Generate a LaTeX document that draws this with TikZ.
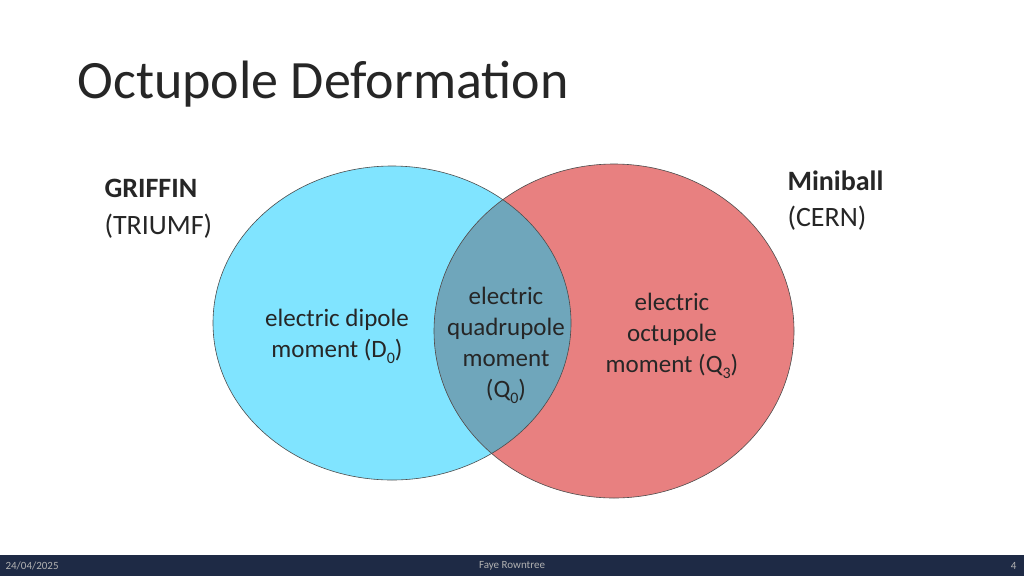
\documentclass[tikz,border=0pt]{standalone}
\usepackage{fontspec}
\setmainfont{Carlito}
\newcommand{\sbs}[1]{\raisebox{-0.25em}{\fontsize{16}{16}\selectfont #1}}
\begin{document}
\begin{tikzpicture}[x=1pt,y=-1pt,
  lbl/.style={align=center,font=\fontsize{25}{31}\selectfont,text=black!85},
  foot/.style={font=\fontsize{11}{12}\selectfont,text=gray!60}]
\definecolor{cy}{HTML}{80E4FF}\definecolor{rd}{HTML}{E88080}\definecolor{ov}{HTML}{6FA6BB}
\definecolor{nav}{HTML}{1E2A45}
\useasboundingbox (0,0) rectangle (1024,576);
\fill[white] (0,0) rectangle (1024,576);
\node[anchor=west,font=\fontsize{54}{56}\selectfont,text=black!85] (title) at (74,84) {Octupole Deformation};
\fill[cy] (392,323) ellipse [x radius=179,y radius=157];
\fill[rd] (614,331) ellipse [x radius=180,y radius=167];
\begin{scope}
\clip (392,323) ellipse [x radius=179,y radius=157];
\fill[ov] (614,331) ellipse [x radius=180,y radius=167];
\end{scope}
\draw[black!70,line width=0.6pt] (392,323) ellipse [x radius=179,y radius=157];
\draw[black!70,line width=0.6pt] (614,331) ellipse [x radius=180,y radius=167];
\node[lbl] (a) at (337,336) {electric dipole\\moment (D\sbs{0})};
\node[lbl] (b) at (506,345) {electric\\quadrupole\\moment\\(Q\sbs{0})};
\node[lbl] (c) at (672,336) {electric\\octupole\\moment (Q\sbs{3})};
\node[lbl,anchor=north west,align=left,font=\fontsize{28}{37}\selectfont] (g) at (101,176) {\textbf{GRIFFIN}\\(TRIUMF)};
\node[lbl,anchor=north west,align=left,font=\fontsize{28}{36}\selectfont] (m) at (784,167) {\textbf{Miniball}\\(CERN)};
\fill[nav] (0,555) rectangle (1024,576);
\node[foot,anchor=west] (d) at (2,566) {24/04/2025};
\node[foot] (f) at (512,566) {Faye Rowntree};
\node[foot,anchor=east] (p) at (1020,566) {4};
\end{tikzpicture}
\end{document}
